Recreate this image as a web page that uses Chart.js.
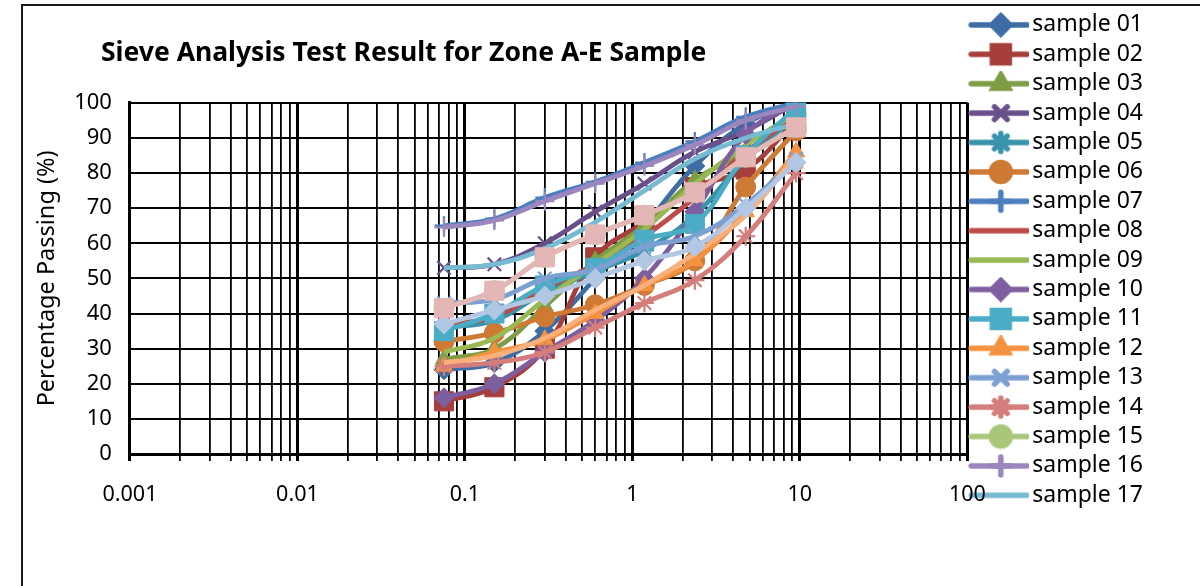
<!DOCTYPE html>
<html><head><meta charset="utf-8">
<script src="https://cdn.jsdelivr.net/npm/chart.js@4.4.1/dist/chart.umd.min.js"></script>
<style>
html,body{margin:0;padding:0;background:#fff;width:1200px;height:586px;overflow:hidden}
#wrap{position:relative;width:1200px;height:586px}
#frame{position:absolute;left:21px;top:4px;width:1400px;height:800px;border-left:2px solid #1a1a1a;border-top:2px solid #1a1a1a;pointer-events:none}
canvas{position:absolute;left:0;top:0}
</style></head><body>
<div id="wrap"><canvas id="c" width="1200" height="586"></canvas><div id="frame"></div></div>
<script>
// ---- data ----
const sieveSizes = [0.075, 0.15, 0.3, 0.6, 1.18, 2.36, 4.75, 9.5];
const sampleNames = ['sample 01','sample 02','sample 03','sample 04','sample 05','sample 06','sample 07','sample 08','sample 09','sample 10',
  'sample 11','sample 12','sample 13','sample 14','sample 15','sample 16','sample 17','sample 18','sample 19','sample 20'];
const sample01 = [24, 26, 35, 50, 65, 82, 94, 100];
const sample02 = [15, 19, 30, 56, 66, 76, 81, 95];
const sample03 = [27, 30, 42, 55, 65, 78, 86, 96];
const sample04 = [53, 54, 60, 69, 77, 86, 92, 100];
const sample05 = [36, 38, 46, 52, 58, 68, 84, 96];
const sample06 = [32, 34.5, 39, 42.5, 48, 55, 76, 92];
const sample07 = [65, 67, 73, 77.5, 83, 89, 96, 100];
const sample08 = [37, 39, 47, 54, 62, 73, 86, 96];
const sample09 = [29, 33, 44, 54, 64, 77, 88, 97];
const sample10 = [16, 20, 29, 38, 50, 69, 91, 100];
const sample11 = [35, 40, 48, 53, 61, 65.5, 85, 98.5];
const sample12 = [25, 29, 32.5, 40, 48, 55, 69, 86];
const sample13 = [43, 44, 50, 52.5, 59, 62, 71, 84];
const sample14 = [25, 26, 29, 36, 43, 49.5, 62, 80];
const sample15 = [41.5, 46.5, 56, 62.5, 68, 74.5, 84.5, 93];
const sample16 = [64.5, 66.5, 72, 77, 82, 88, 95, 99];
const sample17 = [53, 54, 58.5, 66, 75, 84, 90, 94];
const sample18 = [26, 28, 33, 41, 48, 57, 68, 85];
const sample19 = [37, 41, 45, 50, 55, 59, 70, 83];
const sample20 = [41.5, 46.5, 56, 62.5, 68, 74.5, 84.5, 93];
const allSamples = [sample01,sample02,sample03,sample04,sample05,sample06,sample07,sample08,sample09,sample10,
  sample11,sample12,sample13,sample14,sample15,sample16,sample17,sample18,sample19,sample20];
const xTickDecades = [0.001, 0.01, 0.1, 1, 10];
const xMin = 0.001, xMax = 100;
const yTicks = [0,10,20,30,40,50,60,70,80,90,100];
const legendShown = 17;

// ---- styles ----
const colors = ['#3E6DA5','#A63E3B','#7E9D45','#69508B','#3A93AC','#CE7A35','#4A7EBF','#BE4B48','#98B954','#7D5FA0',
  '#4AACC5','#F59241','#7DA0D3','#D47E7C','#A9C77A','#9B86BD','#77BBD2','#F9B07B','#B2C7E4','#E4B6B5'];
const markers = ['rectRot','rect','triangle','crossRot','star','circle','cross',false,false,'rectRot',
  'rect','triangle','crossRot','star','circle','cross',false,false,'rectRot','rect'];
const radii = {rectRot:10, rect:13.5, triangle:10, crossRot:9.5, star:9.5, circle:10, cross:9.5};
const FONT = '"Noto Sans", "Open Sans", sans-serif';

function isMajor(v){ const l = Math.log10(v); return Math.abs(l - Math.round(l)) < 1e-6; }
const xTickValues = [];
xTickDecades.forEach(d => { for (let k = 1; k <= 9; k++) xTickValues.push(+(d*k).toPrecision(3)); });
xTickValues.push(xMax);

function legendIcon(i){
  const cv = document.createElement('canvas');
  cv.width = 64; cv.height = 26;
  const g = cv.getContext('2d');
  g.strokeStyle = colors[i]; g.lineWidth = 5.5; g.lineCap = 'round';
  g.beginPath(); g.moveTo(6, 13); g.lineTo(62, 13); g.stroke();
  if (markers[i]) {
    const st = markers[i];
    g.fillStyle = colors[i]; g.strokeStyle = colors[i];
    const r = st === 'rect' ? 12 : (st === 'circle' ? 9.5 : 9);
    Chart.helpers.drawPoint(g, {pointStyle: st, radius: r, rotation: 0, borderWidth: (st==='cross'||st==='crossRot'||st==='star') ? 2 : 1}, 35.6, 13);
  }
  return cv;
}

const datasets = allSamples.map((arr, i) => {
  const st = markers[i];
  return {
    label: sampleNames[i],
    data: arr.map((v, j) => ({x: sieveSizes[j], y: v})),
    borderColor: colors[i],
    backgroundColor: colors[i],
    borderWidth: 4.8,
    tension: 0.4,
    pointStyle: st || 'circle',
    pointRadius: st ? radii[st] : 0,
    pointBorderWidth: (st==='cross'||st==='crossRot'||st==='star') ? 2.2 : 1,
    pointBorderColor: colors[i],
    pointBackgroundColor: colors[i],
    order: allSamples.length - i
  };
});

const titleShift = {
  id: 'titleShift',
  afterLayout(chart){
    const t = chart.titleBlock;
    if (t) { const w = t.right - t.left; t.left = 101; t.right = 101 + w; }
  }
};

new Chart(document.getElementById('c'), {
  type: 'line',
  data: { datasets },
  plugins: [titleShift],
  options: {
    responsive: false,
    animation: false,
    layout: { padding: { top: 7, left: 13, right: 47, bottom: 0 } },
    plugins: {
      tooltip: { enabled: false },
      title: {
        display: true,
        text: 'Sieve Analysis Test Result for Zone A-E Sample',
        align: 'start',
        color: '#000',
        font: { family: FONT, size: 26.5, weight: 'bold' },
        padding: { top: 31, bottom: 33 }
      },
      legend: {
        position: 'right',
        align: 'start',
        labels: {
          usePointStyle: true,
          pointStyleWidth: 47,
          boxHeight: 22,
          padding: 6.4,
          color: '#000',
          font: { family: FONT, size: 23 },
          filter: item => item.datasetIndex < legendShown,
          sort: (a, b) => a.datasetIndex - b.datasetIndex,
          generateLabels: chart => {
            const base = Chart.defaults.plugins.legend.labels.generateLabels(chart);
            return base.map(l => Object.assign(l, { pointStyle: legendIcon(l.datasetIndex), fontColor: '#000' }));
          }
        }
      }
    },
    scales: {
      x: {
        type: 'logarithmic',
        min: xMin, max: xMax,
        afterBuildTicks: s => { s.ticks = xTickValues.map(v => ({ value: v, major: isMajor(v) })); },
        afterFit: s => { s.height = 132; },
        ticks: {
          autoSkip: false, maxRotation: 0, minRotation: 0, padding: 21,
          color: '#000',
          font: { family: FONT, size: 21.5 },
          callback: v => isMajor(v) ? String(+(+v).toPrecision(1)) : ''
        },
        grid: {
          color: '#000',
          lineWidth: c => (c.tick && isMajor(c.tick.value)) ? 3 : 1.8,
          tickLength: 7,
          drawTicks: true
        },
        border: { color: '#000', width: 3 }
      },
      y: {
        min: 0, max: 100,
        afterBuildTicks: s => { s.ticks = yTicks.map(v => ({ value: v })); },
        ticks: { color: '#000', padding: 18, font: { family: FONT, size: 22 } },
        grid: { color: '#000', lineWidth: 2, drawTicks: false },
        border: { color: '#000', width: 3 },
        title: {
          display: true, text: 'Percentage Passing (%)', color: '#000',
          font: { family: FONT, size: 23.5 }, padding: { top: 20, bottom: -5 }
        }
      }
    }
  }
});
</script>
</body></html>
